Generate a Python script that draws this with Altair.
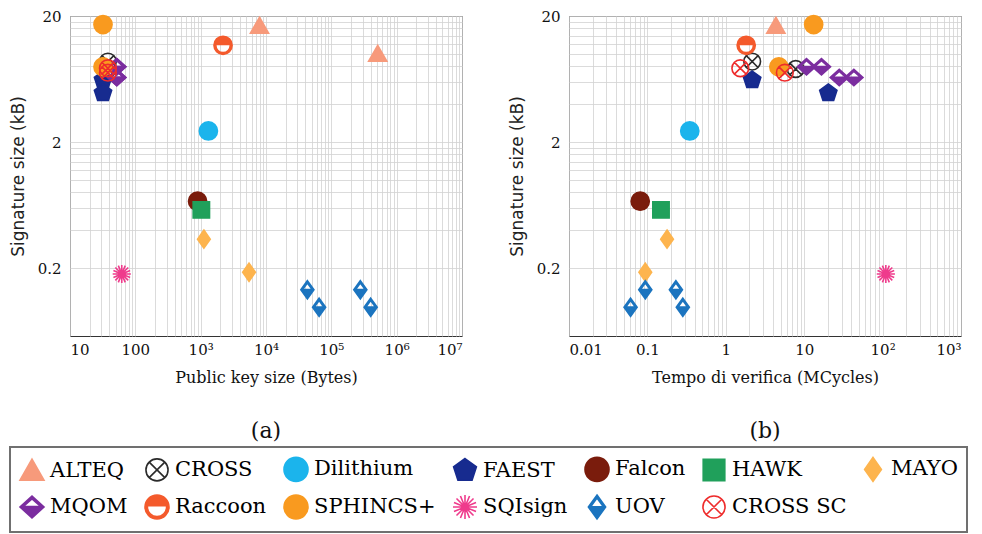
import altair as alt
import pandas as pd

# ---------------- data ----------------
schemes = ["ALTEQ", "ALTEQ", "CROSS", "CROSS", "Dilithium", "FAEST", "FAEST", "Falcon",
           "HAWK", "MAYO", "MAYO", "MQOM", "MQOM", "MQOM", "MQOM", "Raccoon",
           "SPHINCS+", "SPHINCS+", "SQIsign", "UOV", "UOV", "UOV", "UOV",
           "CROSS SC", "CROSS SC"]
pk_bytes = [7950, 513000, 38, 38, 1312, 32, 32, 897,
            1024, 1120, 5500, 52, 52, 52, 52, 2200,
            32, 32, 62, 43000, 65000, 278000, 400000,
            38, 38]
verify_mcycles = [4.35, None, 2.17, 7.8, 0.347, 2.17, 20.3, 0.081,
                  0.149, 0.178, 0.094, 10.7, 16.6, 28, 43, 1.82,
                  13.2, 4.75, 110, 0.094, 0.061, 0.231, 0.283,
                  1.53, 5.66]
sig_kb = [16.7, 10.0, 8.7, 7.6, 2.45, 6.2, 4.9, 0.68,
          0.58, 0.34, 0.186, 7.9, 7.9, 6.5, 6.5, 11.7,
          17.1, 7.9, 0.18, 0.135, 0.098, 0.135, 0.098,
          7.7, 7.1]

legend_order = ["ALTEQ", "CROSS", "Dilithium", "FAEST", "Falcon", "HAWK", "MAYO",
                "MQOM", "Raccoon", "SPHINCS+", "SQIsign", "UOV", "CROSS SC"]
stroke_colors = ["#F79A7B", "#2B2B2B", "#1BB4EC", "#172B8F", "#7A1C0C", "#20A05B", "#FDB44E",
                 "#7B2D9F", "#F45A2C", "#F99A1F", "#EF3B8C", "#1B74BF", "#EE2B2B"]
fill_colors = ["#F79A7B", "transparent", "#1BB4EC", "#172B8F", "#7A1C0C", "#20A05B", "#FDB44E",
               "#7B2D9F", "#F45A2C", "#F99A1F", "transparent", "#1B74BF", "transparent"]

TRI = "M0,-0.95L1,0.8L-1,0.8Z"
CIRC_X = ("M0.92,0A0.92,0.92 0 1,1 -0.92,0A0.92,0.92 0 1,1 0.92,0"
          "M-0.65,-0.65L0.65,0.65M-0.65,0.65L0.65,-0.65")
CIRCLE = "M1,0A1,1 0 1,1 -1,0A1,1 0 1,1 1,0Z"
PENT = "M0,-1L0.951,-0.309L0.588,0.809L-0.588,0.809L-0.951,-0.309Z"
SQUARE = "M-0.9,-0.9L0.9,-0.9L0.9,0.9L-0.9,0.9Z"
DIAMOND = "M0,-1L0.7,0L0,1L-0.7,0Z"
MQOM_D = "M0,-0.9L1,0L0,0.9L-1,0ZM0,-0.68L-0.72,-0.04L0.72,-0.04Z"
RACCOON = ("M0,-1A1,1 0 1,1 0,1A1,1 0 1,1 0,-1Z"
           "M0,-0.8A0.8,0.8 0 1,0 0,0.8A0.8,0.8 0 1,0 0,-0.8Z"
           "M-0.8,-0.1A0.8,0.8 0 0,1 0.8,-0.1Z")
ASTER = ("M-1,0L1,0M0,-1L0,1M-0.71,-0.71L0.71,0.71M-0.71,0.71L0.71,-0.71"
         "M-0.38,-0.92L0.38,0.92M0.38,-0.92L-0.38,0.92M-0.92,-0.38L0.92,0.38M-0.92,0.38L0.92,-0.38")
UOV_D = "M0,-1L0.72,0L0,1L-0.72,0ZM0,-0.74L-0.53,-0.02L0.53,-0.02Z"
shape_paths = [TRI, CIRC_X, CIRCLE, PENT, CIRCLE, SQUARE, DIAMOND,
               MQOM_D, RACCOON, CIRCLE, ASTER, UOV_D, CIRC_X]

left_df = pd.DataFrame({"scheme": schemes, "x": pk_bytes, "sig": sig_kb})
right_df = pd.DataFrame({"scheme": schemes, "x": verify_mcycles, "sig": sig_kb}).dropna()

# ---------------- axes ----------------
def label_expr(mapping):
    expr = "''"
    for v, s in reversed(mapping):
        expr = f"datum.value == {v} ? '{s}' : ({expr})"
    return expr

left_vals = [k * 10 ** e for e in range(1, 7) for k in range(1, 10)] + [10 ** 7]
left_labels = [(10, "10"), (100, "100"), (1000, "10³"), (10000, "10⁴"),
               (100000, "10⁵"), (1000000, "10⁶"), (10000000, "10⁷")]
right_vals = [round(k * 10.0 ** e, 6) for e in range(-2, 3) for k in range(1, 10)] + [1000]
right_labels = [(0.01, "0.01"), (0.1, "0.1"), (1, "1"), (10, "10"), (100, "10²"), (1000, "10³")]
y_vals = [round(0.2 * k, 4) for k in range(1, 11)] + [2 * k for k in range(2, 11)]
y_labels = [(0.2, "0.2"), (2, "2"), (20, "20")]

SERIF = "DejaVu Serif"
SANS = "DejaVu Sans"

def x_axis(title, vals, labels):
    return alt.Axis(title=title, values=vals, labelExpr=label_expr(labels), grid=True,
                    gridColor="#d2d2d2", gridWidth=0.8, ticks=False, domain=False,
                    labelFont=SERIF, labelFontSize=15, labelColor="#111", labelPadding=6,
                    labelOverlap=False, titleFont=SERIF, titleFontSize=16,
                    titleFontWeight="normal", titleColor="#111", titlePadding=12)

y_axis = alt.Axis(title="Signature size (kB)", values=y_vals, labelExpr=label_expr(y_labels),
                  grid=True, gridColor="#d2d2d2", gridWidth=0.8, ticks=False, domain=False,
                  labelFont=SERIF, labelFontSize=15, labelColor="#111", labelPadding=9,
                  labelOverlap=False, titleFont=SANS, titleFontSize=17,
                  titleFontWeight="normal", titleColor="#222", titlePadding=10)

leg = alt.Legend(title=None, orient="none", legendX=-60, legendY=431, direction="horizontal",
                 columns=7)
enc_common = dict(
    y=alt.Y("sig:Q", scale=alt.Scale(type="log", domain=[0.058, 20], nice=False), axis=y_axis),
    fill=alt.Fill("scheme:N", scale=alt.Scale(domain=legend_order, range=fill_colors), legend=leg),
    stroke=alt.Stroke("scheme:N", scale=alt.Scale(domain=legend_order, range=stroke_colors), legend=leg),
    shape=alt.Shape("scheme:N", scale=alt.Scale(domain=legend_order, range=shape_paths), legend=leg),
)


def panel(df, title, dom, vals, labels, sub):
    return alt.Chart(df).mark_point(filled=True, size=330, strokeWidth=1.6, opacity=1).encode(
        x=alt.X("x:Q", scale=alt.Scale(type="log", domain=dom, nice=False),
                axis=x_axis(title, vals, labels)),
        **enc_common,
    ).properties(
        width=392, height=320,
        title=alt.TitleParams(sub, orient="bottom", font=SERIF, fontSize=22,
                              fontWeight="normal", color="#111", offset=36),
    )

left = panel(left_df, "Public key size (Bytes)", [10, 1e7], left_vals, left_labels, "(a)")
right = panel(right_df, "Tempo di verifica (MCycles)", [0.01, 1000], right_vals, right_labels, "(b)")

chart = alt.hconcat(left, right, spacing=44).resolve_scale(x="independent").properties(
    padding={"left": 0, "top": 0, "right": 0, "bottom": 0}
).configure_view(stroke="#333", strokeWidth=1).configure_legend(
    symbolSize=576, symbolStrokeWidth=1.6, labelFont=SERIF,
    labelFontSize=21, labelColor="#000", labelOffset=5, columnPadding=13, rowPadding=6,
    strokeColor="#707070", strokeWidth=2, fillColor="white", padding=9, labelLimit=300,
)

chart.save("out.html", embed_options={"renderer": "svg", "actions": False})
